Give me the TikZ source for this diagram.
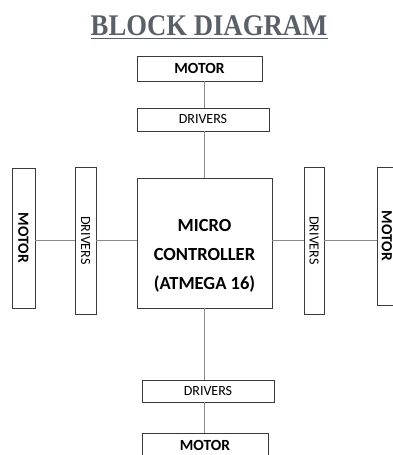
\documentclass[tikz,border=0pt]{standalone}
\usepackage{fontspec}
\setsansfont{Carlito}
\newfontfamily\titlefont{Liberation Serif}
\usepackage{graphicx}
\definecolor{boxgray}{HTML}{3A3A3A}
\definecolor{linegray}{HTML}{8A8A8A}
\definecolor{titlegray}{HTML}{5B6068}

\begin{document}
\begin{tikzpicture}[x=1pt, y=-1pt]
\tikzstyle{blk} = [draw=boxgray, line width=0.9pt, inner sep=0pt, font=\sffamily]
\tikzstyle{mot} = [blk, font=\sffamily\bfseries\fontsize{15.5}{18}\selectfont]
\tikzstyle{drv} = [blk, font=\sffamily\fontsize{14}{17}\selectfont]
\tikzstyle{e} = [draw=linegray, line width=1.1pt]

\useasboundingbox (0,0) rectangle (393,455);

\node[anchor=base, inner sep=0pt, text=titlegray,
  font=\titlefont\bfseries\fontsize{30}{34}\selectfont] (T) at (209,35)
  {\scalebox{0.89}[1]{BLOCK DIAGRAM}};
\draw[titlegray, line width=1.6pt] ([yshift=-3pt]T.south west) -- ([yshift=-3pt]T.south east);

\node[mot, minimum width=125, minimum height=25] (mT) at (199.5,68.5) {MOTOR};
\node[drv, minimum width=132, minimum height=23] (dT) at (203,119.5) {DRIVERS};
\node[blk, minimum width=135, minimum height=130] (MC) at (204.5,243) {};
\node[align=center, inner sep=0pt,
  font=\sffamily\bfseries\fontsize{18.5}{29}\selectfont] (MCt) at (204.5,256)
  {MICRO\\CONTROLLER\\(ATMEGA 16)};
\node[mot, minimum width=23, minimum height=140] (mL) at (23.5,238) {\rotatebox{-90}{MOTOR}};
\node[drv, minimum width=21, minimum height=147] (dL) at (85.5,240.5) {\rotatebox{-90}{DRIVERS}};
\node[drv, minimum width=20, minimum height=147] (dR) at (314,240.5) {\rotatebox{-90}{DRIVERS}};
\node[mot, minimum width=20, minimum height=138] (mR) at (387,236) {\rotatebox{-90}{MOTOR}};
\node[drv, minimum width=132, minimum height=22] (dB) at (208,391) {DRIVERS};
\node[mot, minimum width=126, minimum height=25] (mB) at (205,445.5) {MOTOR};

\draw[e] (mT.south -| MC) -- (dT.north -| MC);
\draw[e] (dT.south -| MC) -- (MC.north);
\draw[e] (MC.south) -- (dB.north -| MC);
\draw[e] (dB.south -| MC) -- (mB.north -| MC);
\draw[e] (mL.east |- dL) -- (dL.west);
\draw[e] (dL.east) -- (MC.west |- dL);
\draw[e] (MC.east |- dR) -- (dR.west);
\draw[e] (dR.east) -- (mR.west |- dR);
\end{tikzpicture}
\end{document}
